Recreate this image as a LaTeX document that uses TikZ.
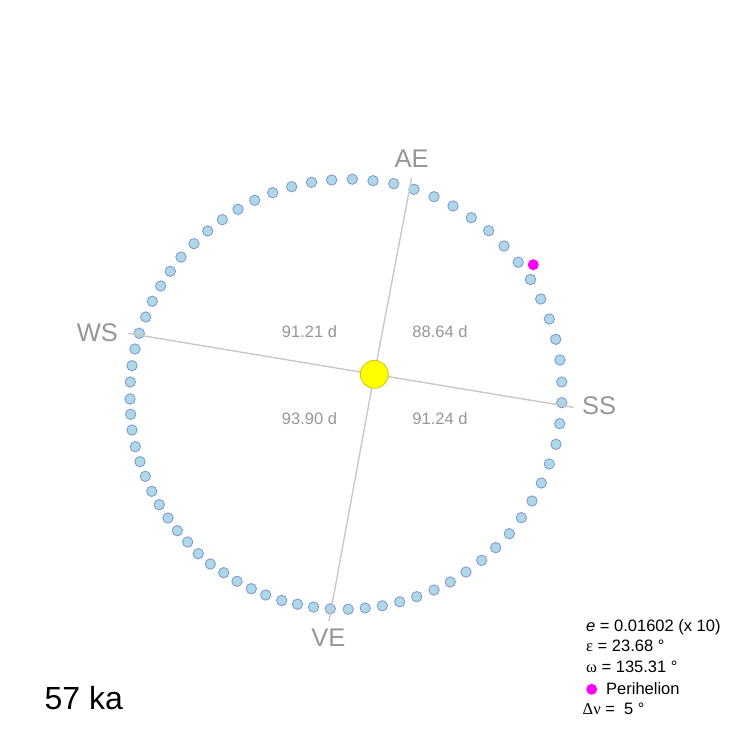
\documentclass[tikz,border=0pt]{standalone}
\usepackage{fontspec}
\setmainfont{Liberation Sans}
\newfontfamily\greekfont{Liberation Serif}
\usepackage{tikz}
\usepackage{xcolor}
\usetikzlibrary{positioning}

\definecolor{dotfill}{RGB}{173,216,230}
\definecolor{dotedge}{RGB}{120,144,214}
\definecolor{sunfill}{RGB}{255,255,0}
\definecolor{sunedge}{RGB}{210,200,0}
\definecolor{perimagenta}{RGB}{255,0,255}
\definecolor{axisgray}{RGB}{200,200,200}
\definecolor{labelgray}{RGB}{150,150,150}

\begin{document}
\begin{tikzpicture}[x=1pt, y=-1pt,
        orbitdot/.style={circle, fill=dotfill, draw=dotedge, line width=0.75pt, minimum size=10.4pt, inner sep=0pt},
        perimark/.style={circle, fill=perimagenta, minimum size=11pt, inner sep=0pt},
        sunball/.style={circle, fill=sunfill, draw=sunedge, line width=0.8pt, minimum size=28pt, inner sep=0pt},
        axisline/.style={draw=axisgray, line width=1.4pt},
        season/.style={text=labelgray, font=\fontsize{25.5}{30}\selectfont, inner sep=0pt},
        days/.style={text=labelgray, font=\fontsize{16.5}{20}\selectfont, inner sep=0pt},
        legend/.style={anchor=base west, font=\fontsize{16.5}{20}\selectfont, inner sep=0pt}
    ]
        \useasboundingbox (0,0) rectangle (750,750);

        % Orbit
        \foreach \x/\y [count=\i] in {
            130.3/382, 132/365.7, 135/349, 139.3/333.3, 145.7/317, 152.3/301.3, 160.7/286,
            170.3/271.3, 181/257, 194/243.7, 207.7/231, 222.3/219.7, 238/209.3, 254.7/200.3,
            272.7/192.7, 291.7/186.7, 311.5/182.3, 331.7/180, 352.3/179.2, 373/180.7, 393.7/183.7,
            414/189.3, 434/196.7, 453/206, 471.3/217.7, 488.7/230.7, 504/246, 518.2/262.2,
            530.5/279.5, 540.7/299, 549.3/319, 555.7/339.3, 560/360, 561.8/382, 561.7/402.7,
            559.7/423.7, 556/444.3, 549.3/464, 541.3/483, 532/501, 521.3/517.7, 509.3/533.7,
            495.7/547.7, 481.7/560.3, 466/572, 450.3/582, 434/590, 416.7/596.7, 399.7/601.8,
            382.3/605.8, 365.2/608, 348.2/609.2, 330.3/608.8, 313.5/607, 297.5/604.2, 281.7/600.5,
            265.7/595, 251.3/588.7, 237/581.3, 223.7/572.7, 210.3/564, 198.3/553.7, 187.7/542,
            177.3/530.7, 168/518, 159.3/504.7, 151.7/491.3, 145.3/476.3, 140/461.7, 135.3/446.7,
            132/430, 130.7/414.3, 130/399}
            \node[orbitdot] (pos\i) at (\x,\y) {};
        \node[perimark] (peri) at (533.3,264.7) {};

        % Seasons
        \coordinate (ctr) at (374.3,374.3);
        \coordinate (ae) at (411.7,177.7);
        \coordinate (ws) at (128.3,333.3);
        \coordinate (ss) at (573.3,407.3);
        \coordinate (ve) at (329,621);
        \draw[axisline] (ctr) -- (ae);
        \draw[axisline] (ctr) -- (ws);
        \draw[axisline] (ctr) -- (ss);
        \draw[axisline] (ctr) -- (ve);
        \node[season] (aelabel) at (411.7,159.2) {AE};
        \node[season] (wslabel) at (97.3,333.2) {WS};
        \node[season] (sslabel) at (599.2,406.2) {SS};
        \node[season] (velabel) at (328.3,637.5) {VE};

        % Sun
        \node[sunball] (sun) at (ctr) {};

        % Quarter lengths
        \node[days] (q1) at (309.5,331.8) {91.21 d};
        \node[days] (q2) at (440,331.8) {88.64 d};
        \node[days] (q3) at (309.5,418.3) {93.90 d};
        \node[days] (q4) at (440,418.3) {91.24 d};

        % Legend
        \node[legend] (lecc) at (586,631) {\textit{e} = 0.01602 (x 10)};
        \node[legend] (lobl) at (586,651) {{\greekfont ε} = 23.68 °};
        \node[legend] (lper) at (586,672.7) {{\greekfont ω} = 135.31 °};
        \node[perimark] (lmark) at (591.7,689.3) {};
        \node[legend] (lperi) at (606,694.3) {Perihelion};
        \node[legend] (lstep) at (582.5,714.3) {{\greekfont Δν} =\ \ 5 °};

        % Age
        \node[anchor=base west, inner sep=0pt, font=\fontsize{32}{38}\selectfont] (age) at (44.5,709.3) {57 ka};

    \end{tikzpicture}
\end{document}
